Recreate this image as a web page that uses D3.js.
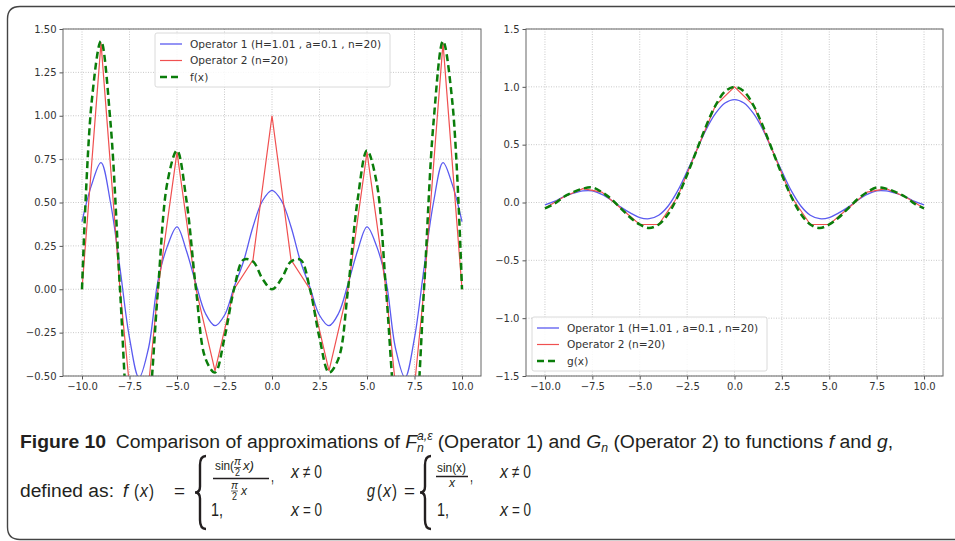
<!DOCTYPE html>
<html>
<head>
<meta charset="utf-8">
<script src="https://cdn.jsdelivr.net/npm/d3@7"></script>
<style>
  body { margin: 0; background: #fff; }
  svg { display: block; }
  .tick-label { font-family: "DejaVu Sans", sans-serif; font-size: 10px; fill: #333; }
  .legend-text { font-family: "DejaVu Sans", sans-serif; font-size: 10.6px; fill: #333; }
  .cap text { font-family: "Liberation Sans", "Open Sans", sans-serif; fill: #231f20; }
</style>
</head>
<body>
<div id="chart"></div>
<script>
// sample positions (half steps and integer nodes)
const xHalf = [-10, -9.5, -9, -8.5, -8, -7.5, -7, -6.5, -6, -5.5, -5, -4.5, -4, -3.5, -3, -2.5, -2, -1.5, -1, -0.5,
               0, 0.5, 1, 1.5, 2, 2.5, 3, 3.5, 4, 4.5, 5, 5.5, 6, 6.5, 7, 7.5, 8, 8.5, 9, 9.5, 10];
const xInt = [-10, -9, -8, -7, -6, -5, -4, -3, -2, -1, 0, 1, 2, 3, 4, 5, 6, 7, 8, 9, 10];

// left panel: f(x) and its approximations
const fLeft = [0, 1.07, 1.43, 0.96, 0, -0.85, -1.12, -0.74, 0, 0.62, 0.80, 0.51, 0, -0.40, -0.48, -0.28, 0, 0.17, 0.16, 0.06,
               0, 0.06, 0.16, 0.17, 0, -0.28, -0.48, -0.40, 0, 0.51, 0.80, 0.62, 0, -0.74, -1.12, -0.85, 0, 0.96, 1.43, 1.07, 0];
const op1Left = [0.39, 0.60, 0.73, 0.50, 0.12, -0.28, -0.51, -0.34, 0.05, 0.25, 0.36, 0.22, 0.03, -0.14, -0.21, -0.15, 0.01, 0.16, 0.36, 0.51,
                 0.57, 0.51, 0.36, 0.16, 0.01, -0.15, -0.21, -0.14, 0.03, 0.22, 0.36, 0.25, 0.05, -0.34, -0.51, -0.28, 0.12, 0.50, 0.73, 0.60, 0.39];
const op2Left = [0, 1.42, 0, -1.12, 0, 0.79, 0, -0.47, 0, 0.17, 1.0, 0.17, 0, -0.47, 0, 0.79, 0, -1.12, 0, 1.42, 0];

// right panel: g(x) and its approximations
const gRight = [-0.05, -0.01, 0.05, 0.09, 0.12, 0.13, 0.09, 0.03, -0.05, -0.13, -0.19, -0.22, -0.19, -0.10, 0.05, 0.24, 0.45, 0.66, 0.84, 0.96,
                1.0, 0.96, 0.84, 0.66, 0.45, 0.24, 0.05, -0.10, -0.19, -0.22, -0.19, -0.13, -0.05, 0.03, 0.09, 0.13, 0.12, 0.09, 0.05, -0.01, -0.05];
const op1Right = [-0.02, 0.01, 0.05, 0.08, 0.10, 0.10, 0.07, 0.02, -0.04, -0.09, -0.13, -0.14, -0.11, -0.03, 0.10, 0.27, 0.45, 0.63, 0.77, 0.86,
                  0.89, 0.86, 0.77, 0.63, 0.45, 0.27, 0.10, -0.03, -0.11, -0.14, -0.13, -0.09, -0.04, 0.02, 0.07, 0.10, 0.10, 0.08, 0.05, 0.01, -0.02];
const op2Right = [-0.05, 0.05, 0.12, 0.09, -0.05, -0.19, -0.19, 0.05, 0.45, 0.84, 1.0, 0.84, 0.45, 0.05, -0.19, -0.19, -0.05, 0.09, 0.12, 0.05, -0.05];

const xTicks = [-10, -7.5, -5, -2.5, 0, 2.5, 5, 7.5, 10];
const yTicksLeft = [-0.5, -0.25, 0, 0.25, 0.5, 0.75, 1.0, 1.25, 1.5];
const yTicksRight = [-1.5, -1.0, -0.5, 0, 0.5, 1.0, 1.5];

const legendOp1 = "Operator 1 (H=1.01 , a=0.1 , n=20)";
const legendOp2 = "Operator 2 (n=20)";

const width = 955, height = 541;
const blue = "#5a5af0", red = "#f05050", green = "#0a7d0a";

const svg = d3.select("#chart").append("svg")
  .attr("width", width)
  .attr("height", height);

svg.append("rect").attr("width", width).attr("height", height).attr("fill", "#fff");

// outer frame of the figure
svg.append("path")
  .attr("d", "M955,6.5 H20 Q7.5,6.5 7.5,19 V527 Q7.5,539.5 20,539.5 H955")
  .attr("fill", "none")
  .attr("stroke", "#444")
  .attr("stroke-width", 1.4);

const minus = s => s.replace(/-/g, "\u2212");

function drawPanel(opt) {
  const x = d3.scaleLinear().domain([-11, 11]).range([opt.left, opt.right]);
  const y = d3.scaleLinear().domain(opt.yDomain).range([opt.bottom, opt.top]);
  const g = svg.append("g");

  const clipId = "clip" + opt.id;
  svg.append("clipPath").attr("id", clipId)
    .append("rect")
    .attr("x", opt.left).attr("y", opt.top)
    .attr("width", opt.right - opt.left).attr("height", opt.bottom - opt.top);

  // grid
  g.selectAll(".gx").data(xTicks).enter().append("line")
    .attr("x1", d => x(d)).attr("x2", d => x(d))
    .attr("y1", opt.top).attr("y2", opt.bottom)
    .attr("stroke", "#bbb").attr("stroke-width", 0.8).attr("stroke-dasharray", "1,1.5");
  g.selectAll(".gy").data(opt.yTicks).enter().append("line")
    .attr("x1", opt.left).attr("x2", opt.right)
    .attr("y1", d => y(d)).attr("y2", d => y(d))
    .attr("stroke", "#bbb").attr("stroke-width", 0.8).attr("stroke-dasharray", "1,1.5");

  // axes
  const xAxis = g.append("g")
    .attr("transform", "translate(0," + opt.bottom + ")")
    .call(d3.axisBottom(x).tickValues(xTicks).tickSize(3.5).tickPadding(3).tickFormat(d => minus(d3.format(".1f")(d))));
  const yAxis = g.append("g")
    .attr("transform", "translate(" + opt.left + ",0)")
    .call(d3.axisLeft(y).tickValues(opt.yTicks).tickSize(3.5).tickPadding(3).tickFormat(d => minus(d3.format(opt.yFormat)(d))));
  [xAxis, yAxis].forEach(a => {
    a.select(".domain").remove();
    a.selectAll(".tick line").attr("stroke", "#555");
    a.selectAll(".tick text").attr("class", "tick-label").attr("font-family", null).attr("font-size", null).attr("fill", null);
  });

  // series
  const line = d3.line().x(d => x(d[0])).y(d => y(d[1]));
  const plot = g.append("g").attr("clip-path", "url(#" + clipId + ")");

  plot.append("path")
    .datum(xHalf.map((v, i) => [v, opt.op1[i]]))
    .attr("d", line.curve(d3.curveCatmullRom))
    .attr("fill", "none").attr("stroke", blue).attr("stroke-width", 1.3);
  plot.append("path")
    .datum(xInt.map((v, i) => [v, opt.op2[i]]))
    .attr("d", line.curve(d3.curveLinear))
    .attr("fill", "none").attr("stroke", red).attr("stroke-width", 1.2);
  plot.append("path")
    .datum(xHalf.map((v, i) => [v, opt.fn[i]]))
    .attr("d", line.curve(d3.curveCatmullRom))
    .attr("fill", "none").attr("stroke", green).attr("stroke-width", 2.5)
    .attr("stroke-dasharray", "7,4");

  // frame
  g.append("rect")
    .attr("x", opt.left).attr("y", opt.top)
    .attr("width", opt.right - opt.left).attr("height", opt.bottom - opt.top)
    .attr("fill", "none").attr("stroke", "#666").attr("stroke-width", 1);

  // legend
  const lg = g.append("g").attr("transform", "translate(" + opt.legend[0] + "," + opt.legend[1] + ")");
  lg.append("rect")
    .attr("width", 235).attr("height", 54).attr("rx", 2)
    .attr("fill", "#fff").attr("fill-opacity", 0.85)
    .attr("stroke", "#d0d0d0").attr("stroke-width", 0.8);
  const items = [
    {label: legendOp1, color: blue, w: 1.3, dash: null},
    {label: legendOp2, color: red, w: 1.2, dash: null},
    {label: opt.fnLabel, color: green, w: 2.5, dash: "7,4"}
  ];
  items.forEach((it, i) => {
    const yy = 11 + i * 16.5;
    lg.append("line")
      .attr("x1", 5).attr("x2", 27).attr("y1", yy).attr("y2", yy)
      .attr("stroke", it.color).attr("stroke-width", it.w)
      .attr("stroke-dasharray", it.dash);
    lg.append("text").attr("class", "legend-text")
      .attr("x", 35).attr("y", yy + 3.8).text(it.label);
  });
}

drawPanel({
  id: "L", left: 63, right: 481, top: 29, bottom: 376,
  yDomain: [-0.5, 1.5], yTicks: yTicksLeft, yFormat: ".2f",
  fn: fLeft, op1: op1Left, op2: op2Left, fnLabel: "f(x)",
  legend: [155, 33]
});
drawPanel({
  id: "R", left: 526, right: 943, top: 29, bottom: 376,
  yDomain: [-1.5, 1.5], yTicks: yTicksRight, yFormat: ".1f",
  fn: gRight, op1: op1Right, op2: op2Right, fnLabel: "g(x)",
  legend: [532, 317]
});

// caption
const cap = svg.append("g").attr("class", "cap");
const ink = "#231f20";
function put(xp, yp, s, size, len, opts) {
  opts = opts || {};
  const t = cap.append("text").attr("x", xp).attr("y", yp).attr("font-size", size).text(s);
  if (len) t.attr("textLength", len).attr("lengthAdjust", "spacingAndGlyphs");
  if (opts.italic) t.attr("font-style", "italic");
  if (opts.bold) t.attr("font-weight", "bold");
  return t;
}
function bar(x1, x2, yy, w) {
  cap.append("line").attr("x1", x1).attr("x2", x2).attr("y1", yy).attr("y2", yy)
    .attr("stroke", ink).attr("stroke-width", w);
}
function brace(xp, y0, y1) {
  const m = (y0 + y1) / 2;
  cap.append("path")
    .attr("d", `M${xp + 6},${y0} Q${xp},${y0} ${xp},${y0 + 9} V${m - 6} Q${xp},${m} ${xp - 5},${m} Q${xp},${m} ${xp},${m + 6} V${y1 - 9} Q${xp},${y1} ${xp + 6},${y1}`)
    .attr("fill", "none").attr("stroke", ink).attr("stroke-width", 2.4);
}

// line 1: natural text, then squeezed as a whole to the caption width
const fs = 18;
const l1g = cap.append("g");
const l1 = l1g.append("text").attr("x", 0).attr("y", 0).attr("font-size", 19);
l1.append("tspan").attr("font-weight", "bold").text("Figure 10");
l1.append("tspan").text("\u2002Comparison of approximations of ");
l1.append("tspan").attr("font-style", "italic").text("F");
const sup = l1.append("tspan").attr("font-style", "italic").attr("font-size", 12).attr("dy", -8).text("a,\u03b5");
const supW = sup.node().getComputedTextLength();
l1.append("tspan").attr("font-style", "italic").attr("font-size", 12).attr("dx", -supW).attr("dy", 12).text("n");
l1.append("tspan").attr("dx", supW - 7).attr("dy", -4).text(" (Operator 1) and ");
l1.append("tspan").attr("font-style", "italic").text("G");
l1.append("tspan").attr("font-style", "italic").attr("font-size", 12).attr("dy", 4).text("n");
l1.append("tspan").attr("dy", -4).text(" (Operator 2) to functions ");
l1.append("tspan").attr("font-style", "italic").text("f");
l1.append("tspan").text(" and ");
l1.append("tspan").attr("font-style", "italic").text("g");
l1.append("tspan").text(",");
const w1 = l1.node().getBBox().width;
l1g.attr("transform", "translate(20,448) scale(" + (874 / w1) + ",1)");

// line 2: f(x)
const b2 = 497;
put(20, b2, "defined as:", fs, 94);
put(123, b2, "f", fs, 5, {italic: true});
put(134, b2, "(", fs, 5);
put(140, b2, "x", fs, 8, {italic: true});
put(149, b2, ")", fs, 5);
put(174, b2, "=", fs, 11);
brace(200, 456, 529);
put(215, 470, "sin(", 12, 19);
put(234, 465, "\u03c0", 11, 7, {italic: true});
bar(234, 241, 467.5, 0.7);
put(235, 476, "2", 10, 5);
put(243, 470, "x)", 12, 11, {italic: true});
bar(213, 269, 478.5, 1.5);
put(231, 489, "\u03c0", 11, 7, {italic: true});
bar(231, 238, 491, 0.7);
put(232, 500, "2", 10, 5);
put(241, 495, "x", 12, 6, {italic: true});
put(271, 482, ",", fs, 3);
put(291, 478, "x", fs, 8, {italic: true});
put(303, 478, "\u2260 0", fs, 19);
put(211, 516, "1,", fs, 12);
put(291, 516, "x", fs, 8, {italic: true});
put(303, 516, "= 0", fs, 19);

// line 2: g(x)
put(367, b2, "g", fs, 8, {italic: true});
put(377, b2, "(", fs, 5);
put(383, b2, "x", fs, 8, {italic: true});
put(392, b2, ")", fs, 5);
put(404, b2, "=", fs, 11);
brace(425, 456, 529);
put(437, 472, "sin(x)", 12, 29);
bar(436, 468, 476.5, 1.5);
put(449, 487, "x", 12, 6, {italic: true});
put(470, 482, ",", fs, 3);
put(500, 478, "x", fs, 8, {italic: true});
put(512, 478, "\u2260 0", fs, 19);
put(437, 516, "1,", fs, 12);
put(500, 516, "x", fs, 8, {italic: true});
put(512, 516, "= 0", fs, 19);
</script>
</body>
</html>
